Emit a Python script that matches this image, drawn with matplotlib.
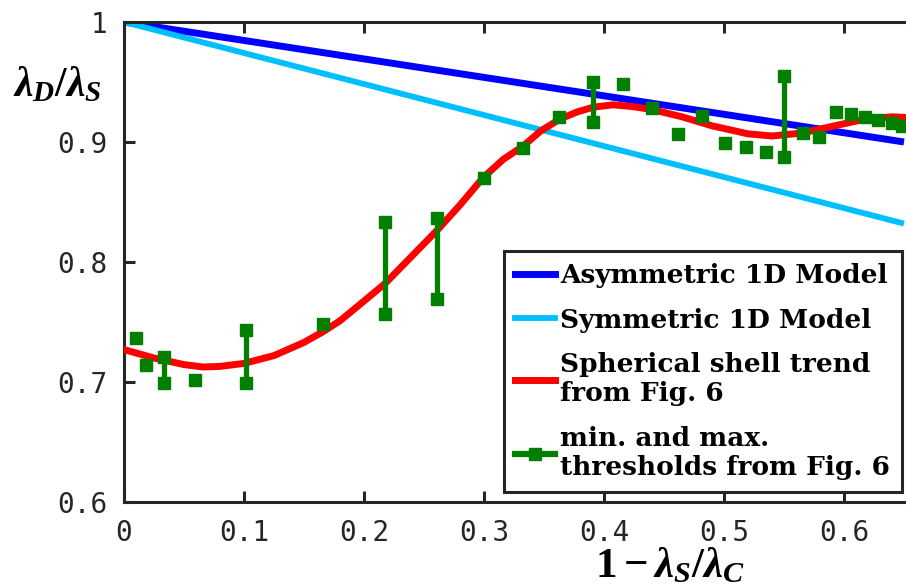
import numpy as np
import matplotlib
matplotlib.use("Agg")
import matplotlib.pyplot as plt
from matplotlib.lines import Line2D

# modelos 1D (retas)
modelo_x = [0.0, 0.65]
assimetrico_y = [1.0, 0.90]
simetrico_y = [1.0, 0.832]

# tendencia da casca esferica
casca_x = [0.0, 0.025, 0.05, 0.066, 0.08, 0.1, 0.125, 0.15, 0.166, 0.18, 0.197,
           0.2175, 0.238, 0.261, 0.28, 0.299, 0.316, 0.3325, 0.347, 0.363, 0.3775,
           0.391, 0.4075, 0.424, 0.44, 0.465, 0.49, 0.52, 0.54, 0.565, 0.59,
           0.615, 0.64, 0.65]
casca_y = [0.727, 0.720, 0.7145, 0.7125, 0.713, 0.7155, 0.722, 0.733, 0.742, 0.751, 0.765,
           0.782, 0.803, 0.8265, 0.8475, 0.870, 0.8855, 0.8965, 0.909, 0.919, 0.925,
           0.929, 0.931, 0.9295, 0.927, 0.921, 0.9135, 0.9068, 0.905, 0.9075, 0.913,
           0.9185, 0.921, 0.9205]

# limiares minimo e maximo
lim_x = [0.010, 0.018, 0.033, 0.059, 0.102, 0.166, 0.2175, 0.261, 0.300, 0.3325,
         0.3625, 0.391, 0.416, 0.440, 0.462, 0.482, 0.501, 0.518, 0.535, 0.550,
         0.566, 0.579, 0.593, 0.606, 0.6175, 0.628, 0.640, 0.648]
lim_min = [0.737, 0.714, 0.699, 0.702, 0.699, 0.748, 0.757, 0.769, 0.870, 0.895,
           0.921, 0.917, 0.948, 0.928, 0.907, 0.922, 0.899, 0.896, 0.892, 0.8875,
           0.9075, 0.904, 0.925, 0.923, 0.921, 0.918, 0.916, 0.913]
lim_max = [0.737, 0.714, 0.721, 0.702, 0.743, 0.748, 0.833, 0.837, 0.870, 0.895,
           0.921, 0.950, 0.948, 0.928, 0.907, 0.922, 0.899, 0.896, 0.892, 0.955,
           0.9075, 0.904, 0.925, 0.923, 0.921, 0.918, 0.916, 0.913]

x_ticks = [0, 0.1, 0.2, 0.3, 0.4, 0.5, 0.6]
x_labels = ["0", "0.1", "0.2", "0.3", "0.4", "0.5", "0.6"]
y_ticks = [0.6, 0.7, 0.8, 0.9, 1.0]
y_labels = ["0.6", "0.7", "0.8", "0.9", "1"]

plt.rcParams['mathtext.fontset'] = 'custom'
plt.rcParams['mathtext.rm'] = 'Liberation Serif:bold'
plt.rcParams['mathtext.bf'] = 'Liberation Serif:bold'
plt.rcParams['mathtext.it'] = 'Liberation Serif:italic:bold'

cor_eixo = '#262626'
verde = '#007F00'

fig = plt.figure(figsize=(9.06, 5.86), dpi=100)
# o eixo passa da borda direita (figura original recortada)
ax = fig.add_axes([124 / 906, 84 / 586, 840 / 906, 480 / 586])

ax.plot(modelo_x, assimetrico_y, color='#0000FF', lw=5.0, solid_capstyle='butt', zorder=2)
ax.plot(modelo_x, simetrico_y, color='#00BFFF', lw=4.2, solid_capstyle='butt', zorder=2)
ax.plot(casca_x, casca_y, color='#FF0000', lw=5.0, zorder=3)

lx = np.array(lim_x)
lmin = np.array(lim_min)
lmax = np.array(lim_max)
barra = lmax > lmin
ax.vlines(lx[barra], lmin[barra], lmax[barra], color=verde, lw=3.8, zorder=4)
ax.plot(lx, lmin, 's', color=verde, ms=8, mec=verde, ls='none', zorder=5)
ax.plot(lx[barra], lmax[barra], 's', color=verde, ms=8, mec=verde, ls='none', zorder=5)

ax.set_xlim(0, 0.70)
ax.set_ylim(0.6, 1.0)
ax.set_xticks(x_ticks)
ax.set_xticklabels(x_labels)
ax.set_yticks(y_ticks)
ax.set_yticklabels(y_labels)

for s in ax.spines.values():
    s.set_linewidth(2.2)
    s.set_color(cor_eixo)
ax.tick_params(direction='in', length=8, width=2.2, color=cor_eixo, top=True, right=True,
               labelcolor=cor_eixo, labelsize=20, pad=12)
for t in ax.get_xticklabels() + ax.get_yticklabels():
    t.set_fontfamily('DejaVu Sans Mono')

fig.text(57 / 906, 1 - 84 / 586, r'$\lambda_D/\lambda_S$', fontsize=30,
         ha='center', va='center')
fig.text(670 / 906, 1 - 577 / 586, r'$\mathrm{1}-\lambda_S/\lambda_C$', fontsize=31,
         ha='center', va='baseline')

handles = [
    Line2D([], [], color='#0000FF', lw=5.0),
    Line2D([], [], color='#00BFFF', lw=4.2),
    Line2D([], [], color='#FF0000', lw=5.0),
    Line2D([], [], color=verde, lw=4.5, marker='s', ms=8),
]
nomes = ['Asymmetric 1D Model', 'Symmetric 1D Model',
         'Spherical shell trend\nfrom Fig. 6', 'min. and max.\nthresholds from Fig. 6']
leg = ax.legend(handles, nomes, loc='lower right', bbox_to_anchor=(778 / 840, 10 / 480),
                borderaxespad=0, fancybox=False, framealpha=1, edgecolor=cor_eixo,
                handlelength=1.5, handletextpad=0.2, borderpad=0.45, labelspacing=0.75,
                prop={'family': 'DejaVu Serif', 'weight': 'bold', 'size': 19})
leg.get_frame().set_linewidth(2.2)

fig.savefig('out.png', dpi=100)
